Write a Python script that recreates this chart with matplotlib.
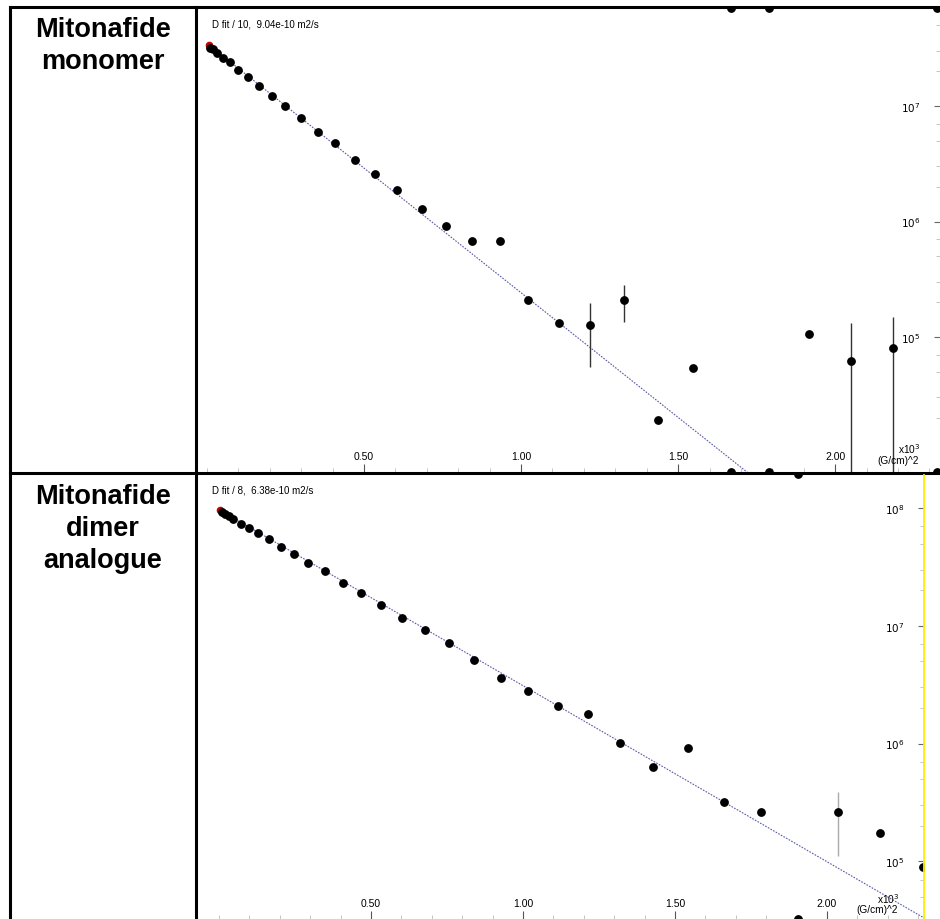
import numpy as np
import matplotlib
matplotlib.use('Agg')
import matplotlib.pyplot as plt
from matplotlib.ticker import LogLocator, MultipleLocator, NullFormatter
from matplotlib.lines import Line2D

plt.rcParams['font.family'] = ['Liberation Sans', 'DejaVu Sans']

# !datos - monomero (panel de arriba), x en (G/cm)^2 x10^3
mono_g2 = [0.008, 0.018, 0.032, 0.050, 0.073, 0.100, 0.130, 0.167, 0.206, 0.248,
           0.298, 0.352, 0.409, 0.471, 0.536, 0.606, 0.683, 0.761, 0.844, 0.932,
           1.023, 1.120, 1.221, 1.327, 1.435, 1.548, 1.917, 2.050, 2.185]
mono_int = [3.2e7, 3.1e7, 2.9e7, 2.6e7, 2.4e7, 2.05e7, 1.78e7, 1.5e7, 1.23e7, 1.0e7,
            7.9e6, 6.0e6, 4.8e6, 3.4e6, 2.6e6, 1.86e6, 1.29e6, 9.1e5, 6.8e5, 6.8e5,
            2.1e5, 1.32e5, 1.26e5, 2.1e5, 1.9e4, 5.4e4, 1.07e5, 6.2e4, 8.1e4]
mono_err_g2 = [1.221, 1.327, 2.050, 2.185]
mono_err_mid = [1.26e5, 2.1e5, 6.2e4, 8.1e4]
mono_err_lo = [5.5e4, 1.35e5, 2e3, 2e3]
mono_err_hi = [1.95e5, 2.8e5, 1.32e5, 1.5e5]
mono_off_g2 = [1.667, 1.791, 2.325]      # fuera de escala (arriba y abajo)
mono_fit_g2 = [0.005, 1.75]
mono_fit_int = [3.4e7, 5.8e3]
mono_label = 'D fit / 10,  9.04e-10 m2/s'

# !datos - dimero (panel de abajo)
dim_g2 = [0.009, 0.020, 0.033, 0.048, 0.072, 0.098, 0.129, 0.165, 0.204, 0.248,
          0.294, 0.349, 0.407, 0.467, 0.534, 0.603, 0.678, 0.757, 0.840, 0.927,
          1.017, 1.114, 1.213, 1.319, 1.428, 1.542, 1.660, 1.782, 2.037, 2.173, 2.315]
dim_int = [9.3e7, 8.9e7, 8.5e7, 8.1e7, 7.4e7, 6.8e7, 6.2e7, 5.5e7, 4.7e7, 4.1e7,
           3.4e7, 2.9e7, 2.3e7, 1.9e7, 1.5e7, 1.17e7, 9.3e6, 7.2e6, 5.1e6, 3.6e6,
           2.8e6, 2.1e6, 1.8e6, 1.02e6, 6.3e5, 9.1e5, 3.2e5, 2.6e5, 2.6e5, 1.74e5, 8.9e4]
dim_err_g2 = [2.037]
dim_err_mid = [2.6e5]
dim_err_lo = [1.1e5]
dim_err_hi = [3.9e5]
dim_off_g2 = [1.905]
dim_fit_g2 = [0.004, 2.40]
dim_fit_int = [9.6e7, 2.5e4]
dim_label = 'D fit / 8,  6.38e-10 m2/s'

xtick_vals = [0.5, 1.0, 1.5, 2.0]
xtick_labels = ['0.50', '1.00', '1.50', '2.00']

W, H = 940, 920
def fx(p): return p / W
def fy(p): return 1 - p / H

fig = plt.figure(figsize=(9.4, 9.2), dpi=100)

def panel(rect, xlim, ylim, yticks, g2, inten, eg2, emid, elo, ehi, off, fg2, fint,
          label, unit_pos, err_color):
    ax = fig.add_axes(rect)
    ax.set_yscale('log')
    ax.set_xlim(*xlim)
    ax.set_ylim(*ylim)
    for s in ax.spines.values():
        s.set_visible(False)
    # linea del ajuste
    ax.plot(fg2, fint, color='#5a5aa8', lw=0.8, ls=(0, (1.5, 1.2)), zorder=2)
    ax.plot(fg2[0], fint[0], 'o', color='#cc0000', ms=4.5, zorder=2)
    # barras de error
    emid = np.array(emid)
    ax.errorbar(eg2, emid, yerr=[emid - np.array(elo), np.array(ehi) - emid],
                fmt='none', ecolor=err_color, elinewidth=1.0, capsize=0, zorder=3)
    ax.plot(g2, inten, 'o', color='black', ms=5.3, zorder=4)
    # puntos fuera de escala, pegados a los bordes
    lo, hi = ax.get_ylim()
    ax.plot(off, [hi] * len(off), 'o', color='black', ms=5.3, zorder=4)
    ax.plot(off, [lo] * len(off), 'o', color='black', ms=5.3, zorder=4)

    ax.yaxis.tick_right()
    ax.set_yticks(yticks)
    ax.set_yticklabels([r'$10^{%d}$' % int(round(np.log10(v))) for v in yticks])
    ax.yaxis.set_minor_locator(LogLocator(base=10, subs=[2, 3, 5, 7]))
    ax.yaxis.set_minor_formatter(NullFormatter())
    ax.tick_params(axis='y', which='major', direction='in', length=4, width=0.8,
                   color='#666666', pad=-14, labelsize=7.5)
    ax.tick_params(axis='y', which='minor', direction='in', length=3, width=0.6,
                   color='#bbbbbb')
    for t in ax.get_yticklabels():
        t.set_ha('right')

    ax.set_xticks(xtick_vals)
    ax.set_xticklabels(xtick_labels)
    ax.xaxis.set_minor_locator(MultipleLocator(0.1))
    ax.tick_params(axis='x', which='major', direction='in', length=6, width=0.8,
                   color='#555555', pad=-8, labelsize=7.5)
    ax.tick_params(axis='x', which='minor', direction='in', length=3, width=0.6,
                   color='#bbbbbb')
    for t in ax.get_xticklabels():
        t.set_va('bottom')

    ax.text(0.02, 0.966, label, transform=ax.transAxes, fontsize=7,
            ha='left', va='center')
    ax.text(unit_pos[0], unit_pos[1], '(G/cm)^2', transform=ax.transAxes,
            fontsize=7.3, ha='center', va='center')
    ax.text(unit_pos[0] + 0.016, unit_pos[1] + 0.026, r'x10$^3$', transform=ax.transAxes,
            fontsize=7.3, ha='center', va='center')
    return ax

panel([fx(197), fy(473), fx(940) - fx(197), fy(9) - fy(473)],
      (-0.032, 2.334), (10 ** 3.83, 10 ** 7.85), [1e5, 1e6, 1e7],
      mono_g2, mono_int, mono_err_g2, mono_err_mid, mono_err_lo, mono_err_hi,
      mono_off_g2, mono_fit_g2, mono_fit_int, mono_label, (0.943, 0.026), '#333333')

panel([fx(197), fy(920), fx(924) - fx(197), fy(475) - fy(920)],
      (-0.072, 2.319), (10 ** 4.51, 10 ** 8.29), [1e5, 1e6, 1e7, 1e8],
      dim_g2, dim_int, dim_err_g2, dim_err_mid, dim_err_lo, dim_err_hi,
      dim_off_g2, dim_fit_g2, dim_fit_int, dim_label, (0.935, 0.022), '#aaaaaa')

# !lineas de la tabla
lines = [((10, 10), (8, 920)), ((196, 196), (8, 920)),
         ((10, 940), (8, 8)), ((10, 940), (474, 474))]
for xs, ys in lines:
    fig.add_artist(Line2D([fx(xs[0]), fx(xs[1])], [fy(ys[0]), fy(ys[1])],
                          transform=fig.transFigure, color='black', lw=2.2))
fig.add_artist(Line2D([fx(924), fx(924)], [fy(476), fy(920)],
                      transform=fig.transFigure, color='#ffee00', lw=1.3))

fig.text(fx(103), fy(17), 'Mitonafide\nmonomer', ha='center', va='top',
         fontsize=19.5, fontweight='bold', linespacing=1.3)
fig.text(fx(103), fy(484), 'Mitonafide\ndimer\nanalogue', ha='center', va='top',
         fontsize=19.5, fontweight='bold', linespacing=1.3)

fig.savefig('out.png', dpi=100)
